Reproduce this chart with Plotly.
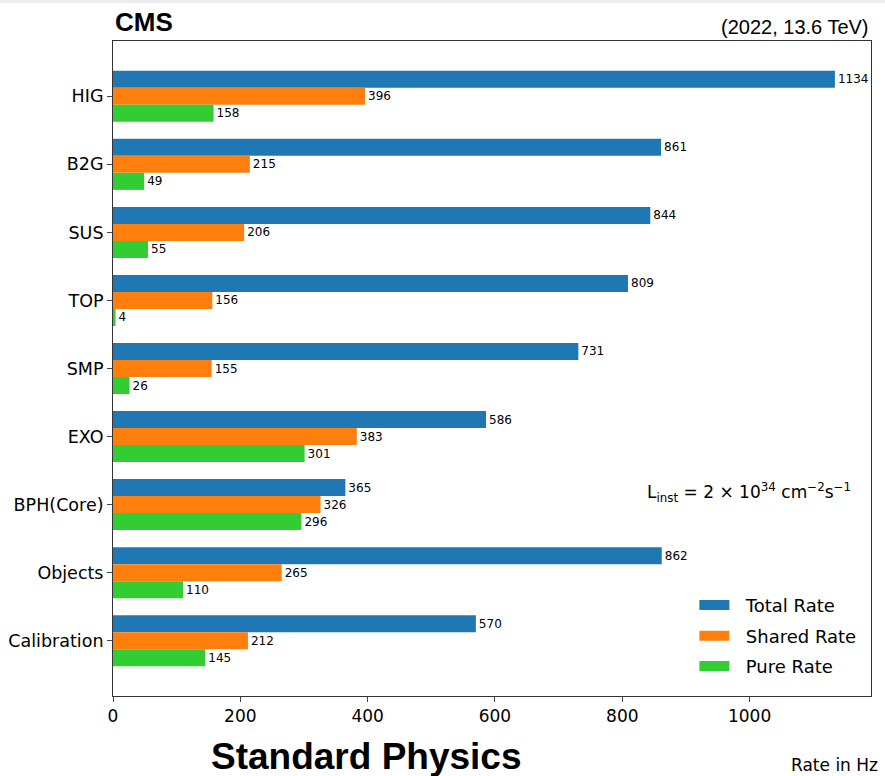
import plotly.graph_objects as go

categories = ["HIG", "B2G", "SUS", "TOP", "SMP", "EXO", "BPH(Core)", "Objects", "Calibration"]
total_rate = [1134, 861, 844, 809, 731, 586, 365, 862, 570]
shared_rate = [396, 215, 206, 156, 155, 383, 326, 265, 212]
pure_rate = [158, 49, 55, 4, 26, 301, 296, 110, 145]
x_ticks = [0, 200, 400, 600, 800, 1000]

series = [
    ("Total Rate", total_rate, "#1f77b4"),
    ("Shared Rate", shared_rate, "#ff7f0e"),
    ("Pure Rate", pure_rate, "#32cd32"),
]
legend_ids = ["legend", "legend2", "legend3"]
legend_y = [0.1385, 0.0915, 0.0455]

fig = go.Figure()
for name, vals, col in series:
    fig.add_trace(go.Bar(
        y=categories, x=vals, orientation="h", name=name,
        marker=dict(color=col, line=dict(width=0)),
        text=[str(v) for v in vals], textposition="outside",
        textfont=dict(size=12, color="black", family="DejaVu Sans"),
        constraintext="none", cliponaxis=False, showlegend=False,
    ))
for (name, vals, col), lid in zip(series, legend_ids):
    fig.add_trace(go.Scatter(
        x=[None], y=[None], mode="lines", name="\u00a0\u00a0" + name,
        line=dict(color=col, width=15), showlegend=True, legend=lid,
    ))

legend_common = dict(x=0.767, xanchor="left", yanchor="middle",
                     font=dict(size=18), bgcolor="rgba(0,0,0,0)", borderwidth=0)

fig.update_layout(
    width=885, height=776,
    margin=dict(l=113, r=14, t=41, b=80, autoexpand=False),
    paper_bgcolor="white", plot_bgcolor="white",
    font=dict(family="DejaVu Sans", size=17, color="black"),
    barmode="group", bargap=0.25, bargroupgap=0,
    showlegend=True,
    legend=dict(y=legend_y[0], **legend_common),
    legend2=dict(y=legend_y[1], **legend_common),
    legend3=dict(y=legend_y[2], **legend_common),
    xaxis=dict(range=[0, 1190.7], tickvals=x_ticks, ticks="outside", ticklen=5,
               showline=True, linecolor="#333", linewidth=1, mirror=True,
               showgrid=False, zeroline=False, tickfont=dict(size=17),
               automargin=False),
    yaxis=dict(type="category", categoryorder="array", categoryarray=categories,
               range=[8.8125, -0.8125], ticks="outside", ticklen=5,
               showline=True, linecolor="#333", linewidth=1, mirror=True,
               showgrid=False, zeroline=False, tickfont=dict(size=17.5),
               automargin=False),
    shapes=[
        dict(type="rect", xref="paper", yref="paper", x0=-0.2, x1=1.1,
             y0=1.058, y1=1.07, fillcolor="#ececec", line=dict(width=0),
             layer="below"),
    ],
    annotations=[
        dict(text="<b>CMS</b>", xref="paper", yref="paper", x=0, y=1.0,
             xanchor="left", yanchor="bottom", showarrow=False, yshift=2,
             font=dict(family="Liberation Sans", size=26)),
        dict(text="(2022, 13.6 TeV)", xref="paper", yref="paper", x=1, y=1.0,
             xanchor="right", yanchor="bottom", showarrow=False, yshift=1,
             font=dict(family="Liberation Sans", size=20)),
        dict(text="L<sub>inst</sub> = 2 × 10<sup>34</sup> cm<sup>−2</sup>s<sup>−1</sup>",
             xref="paper", yref="paper", x=0.976, y=0.311,
             xanchor="right", yanchor="middle", showarrow=False,
             font=dict(size=17)),
        dict(text="Rate in Hz", xref="paper", yref="paper", x=1.012, y=-0.105,
             xanchor="right", yanchor="middle", showarrow=False,
             font=dict(size=17)),
        dict(text="<b>Standard Physics</b>", xref="paper", yref="paper", x=0.335, y=-0.093,
             xanchor="center", yanchor="middle", showarrow=False,
             font=dict(family="Liberation Sans", size=37)),
    ],
)

fig.write_html("out.html", config={"displayModeBar": False},
               post_script="document.body.style.margin='0';document.body.style.overflow='hidden';")
